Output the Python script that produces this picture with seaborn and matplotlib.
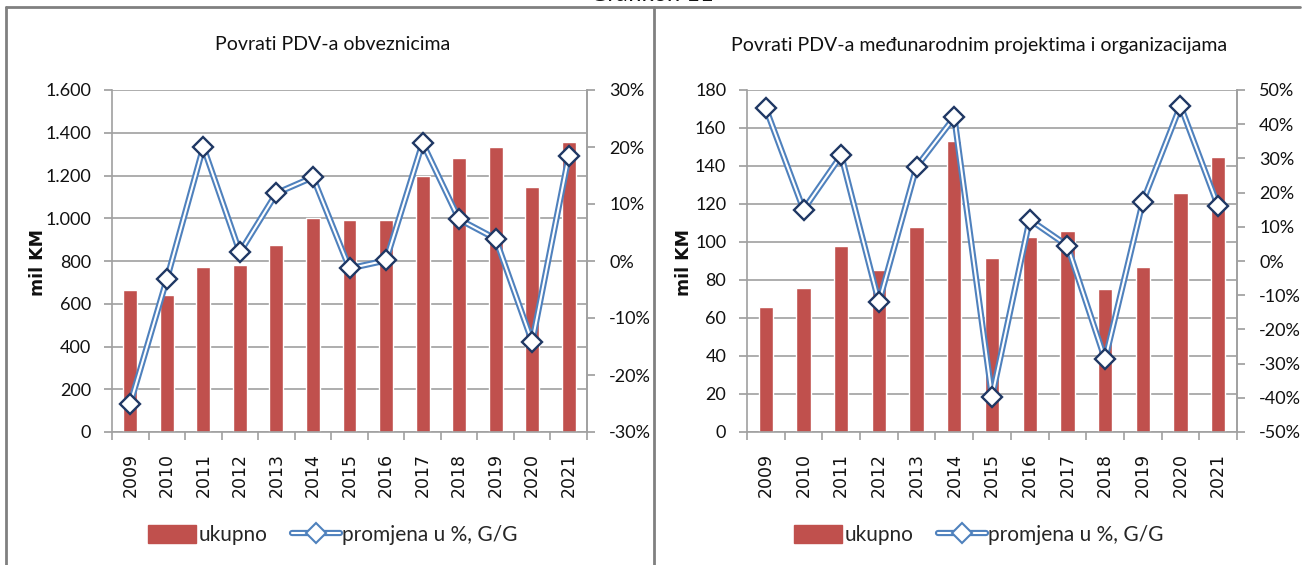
import numpy as np
import pandas as pd
import seaborn as sns
import matplotlib.pyplot as plt
from matplotlib.lines import Line2D
from matplotlib.patches import Patch
from matplotlib.ticker import MultipleLocator, FixedLocator, FuncFormatter

# podaci
godine = ['2009', '2010', '2011', '2012', '2013', '2014', '2015',
          '2016', '2017', '2018', '2019', '2020', '2021']
obveznici_ukupno = [665, 640, 770, 780, 873, 1000, 990, 990, 1200, 1283, 1333, 1145, 1355]
obveznici_promjena = [-25.0, -3.2, 20.0, 1.5, 11.9, 14.7, -1.3, 0.1, 20.7, 7.3, 3.9, -14.2, 18.4]
projekti_ukupno = [66, 76, 98, 85.5, 108, 153, 91.5, 102.5, 106, 75.5, 87, 126, 145]
projekti_promjena = [44.6, 15.0, 30.9, -12.1, 27.6, 42.0, -39.7, 12.1, 4.5, -28.8, 17.3, 45.4, 16.0]

sns.set_theme(style="white")
plt.rcParams['font.family'] = ['Lato', 'DejaVu Sans']

CRVENA = '#C0504D'
PLAVA = '#4F81BD'
TAMNA = '#1F3864'
SIVA = '#A0A0A0'
TEKST = '#111111'

fig = plt.figure(figsize=(13.03, 5.65), dpi=100)
W, H = 1303, 565
osi = []


def crtaj(x0, x1, ukupno, promjena, ymax, ystep, pmin, pmax, naslov, tx, ylab_x):
    ax = fig.add_axes([x0 / W, 1 - 432 / H, (x1 - x0) / W, (432 - 90) / H])
    df = pd.DataFrame({'godina': godine, 'ukupno': ukupno})
    sns.barplot(data=df, x='godina', y='ukupno', color=CRVENA, saturation=1,
                width=0.38, ax=ax, zorder=2)

    ax2 = ax.twinx()
    poz = np.arange(len(godine))
    sns.lineplot(x=poz, y=promjena, ax=ax2, color=PLAVA, lw=4.5, zorder=3)
    sns.lineplot(x=poz, y=promjena, ax=ax2, color='white', lw=1.5, zorder=4)
    sns.lineplot(x=poz, y=promjena, ax=ax2, lw=0, marker='D', markersize=10.5,
                 markerfacecolor='white', markeredgecolor=TAMNA, markeredgewidth=1.7,
                 zorder=5)

    # lijeva os
    ax.set_xlim(-0.5, len(godine) - 0.5)
    ax.set_ylim(0, ymax)
    ax.yaxis.set_major_locator(MultipleLocator(ystep))
    ax.yaxis.set_major_formatter(FuncFormatter(lambda v, p: f'{int(v):,}'.replace(',', '.')))
    ax.grid(axis='y', color=SIVA, lw=1.2, zorder=0)
    ax.set_axisbelow(True)
    ax.spines['top'].set_visible(False)
    for s in ['left', 'bottom', 'right']:
        ax.spines[s].set_color(SIVA)
        ax.spines[s].set_linewidth(1.2)
    ax.set_xlabel('')
    ax.set_ylabel('')
    ax.tick_params(axis='y', which='major', left=True, length=6, color=SIVA,
                   labelsize=13, pad=9, labelcolor=TEKST)
    ax.xaxis.set_major_locator(FixedLocator(poz))
    ax.xaxis.set_minor_locator(FixedLocator(np.arange(-0.5, len(godine), 1.0)))
    ax.tick_params(axis='x', which='major', bottom=False, length=0, pad=15,
                   labelsize=12.5, labelrotation=90, labelcolor=TEKST,
                   labelfontfamily='DejaVu Sans')
    ax.tick_params(axis='x', which='minor', bottom=True, length=6, color=SIVA, width=1.2)

    # desna os
    ax2.set_ylim(pmin, pmax)
    ax2.yaxis.set_major_locator(MultipleLocator(10))
    ax2.yaxis.set_major_formatter(FuncFormatter(lambda v, p: f'{int(round(v))}%'))
    ax2.grid(False)
    for s in ['top', 'left', 'bottom']:
        ax2.spines[s].set_visible(False)
    ax2.spines['right'].set_color(SIVA)
    ax2.spines['right'].set_linewidth(1.2)
    ax2.tick_params(axis='y', right=True, length=6, color=SIVA, labelsize=13,
                    pad=10, labelcolor=TEKST)
    ax2.set_ylabel('')

    fig.text(tx / W, 1 - 45 / H, naslov, ha='center', va='center', fontsize=14,
             color=TEKST)
    fig.text(ylab_x / W, 1 - 262 / H, 'mil KM', rotation=90, ha='center', va='center',
             fontsize=12.5, fontweight='bold', family='DejaVu Sans', color=TEKST)

    rucka_linija = (Line2D([], [], color=PLAVA, lw=4.5),
                    Line2D([], [], color='white', lw=1.5),
                    Line2D([], [], lw=0, marker='D', markersize=10, markerfacecolor='white',
                           markeredgecolor=PLAVA, markeredgewidth=1.5))
    fig.legend([Patch(color=CRVENA), rucka_linija], ['ukupno', 'promjena u %, G/G'],
               loc='center', bbox_to_anchor=(tx / W, 1 - 535 / H), ncol=2, frameon=False,
               fontsize=15, handlelength=2.3, handleheight=1.0, handletextpad=0.1,
               columnspacing=1.2)
    osi.append(ax)


crtaj(112, 587, obveznici_ukupno, obveznici_promjena, 1600, 200, -30, 30,
      'Povrati PDV-a obveznicima', 333, 38)
crtaj(747, 1237, projekti_ukupno, projekti_promjena, 180, 20, -50, 50,
      'Povrati PDV-a međunarodnim projektima i organizacijama', 979, 684)

# godine u sirem fontu
fig.canvas.draw()
for ax in osi:
    for lbl in ax.get_xticklabels():
        lbl.set_fontfamily('DejaVu Sans')

# okviri
sivo = '#808080'
fig.add_artist(Line2D([5.5 / W, 5.5 / W], [0, 1 - 7 / H], color=sivo, lw=2))
fig.add_artist(Line2D([654 / W, 654 / W], [0, 1 - 7 / H], color=sivo, lw=2))
fig.add_artist(Line2D([5.5 / W, 1300 / W], [1 - 7 / H, 1 - 7 / H], color=sivo, lw=2))
# naslov odsječen na vrhu, kao u izvorniku
fig.text(652 / W, 1 - 1 / H, 'Grafikon 11', ha='center', va='baseline', fontsize=17,
         color=TEKST)

fig.savefig('out.png', dpi=100)
